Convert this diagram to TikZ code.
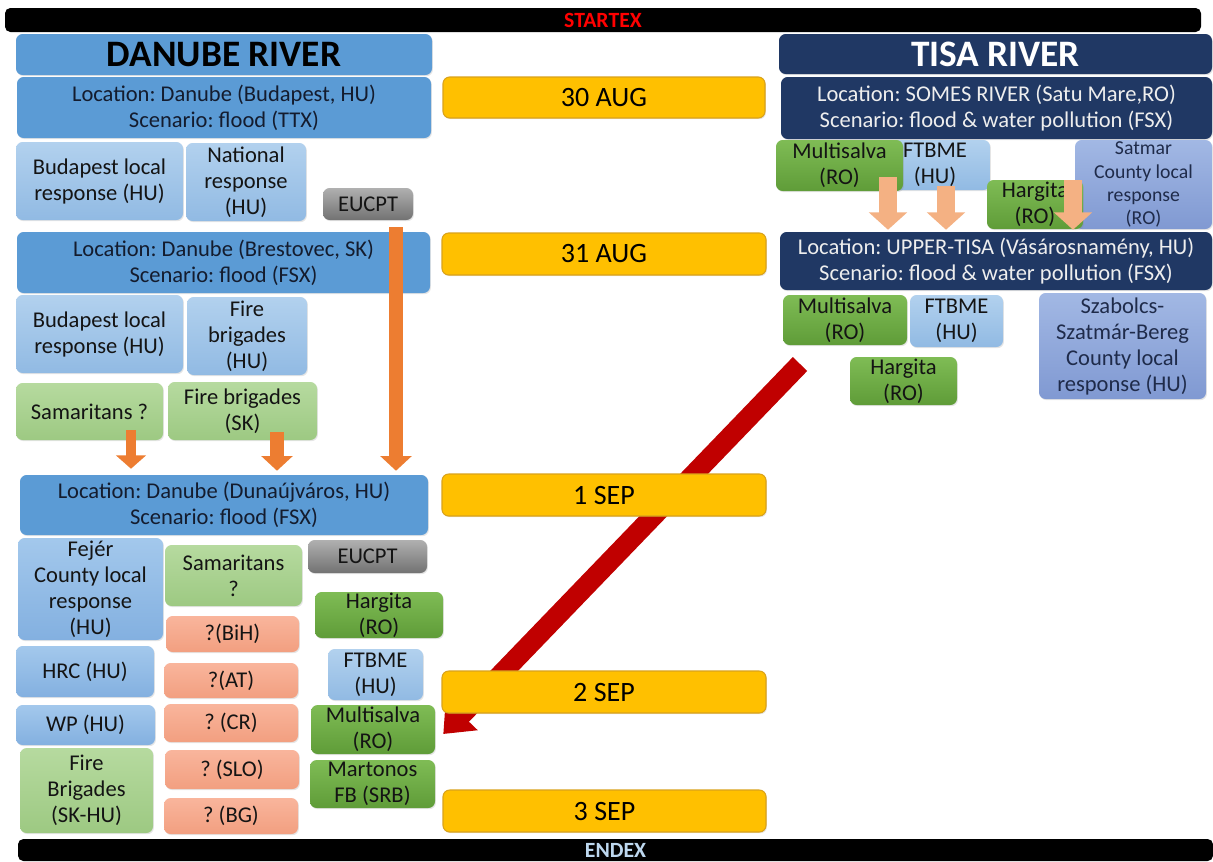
\documentclass[tikz,border=0pt]{standalone}
\usepackage{fontspec}
\setmainfont{Carlito}
\usetikzlibrary{arrows.meta,shadows,calc}
\definecolor{dblue}{HTML}{5B9BD5}
\definecolor{lbT}{HTML}{B2D1EE}
\definecolor{lbB}{HTML}{91BAE3}
\definecolor{fjT}{HTML}{A3C8EC}
\definecolor{fjB}{HTML}{83B0E0}
\definecolor{lgT}{HTML}{B6DA9F}
\definecolor{lgB}{HTML}{9DC982}
\definecolor{dgT}{HTML}{7FBC55}
\definecolor{dgB}{HTML}{5F9C38}
\definecolor{saT}{HTML}{F9B59C}
\definecolor{saB}{HTML}{F29F80}
\definecolor{grT}{HTML}{B0B0B0}
\definecolor{grB}{HTML}{727272}
\definecolor{navy}{HTML}{203864}
\definecolor{peT}{HTML}{A2B8E4}
\definecolor{peB}{HTML}{8099D2}
\definecolor{gold}{HTML}{FFC000}
\definecolor{goldD}{HTML}{D9A21B}
\definecolor{orange1}{HTML}{ED7D31}
\definecolor{peach}{HTML}{F4B183}
\definecolor{darkred}{HTML}{C00000}
\definecolor{txtdark}{HTML}{141414}
\definecolor{loctxt}{HTML}{141C2E}
\definecolor{navytxt}{HTML}{EEEEEE}
\definecolor{peritxt}{HTML}{1F2B4A}
\definecolor{endblue}{HTML}{BDD7EE}
\pgfdeclarelayer{bg}
\pgfsetlayers{bg,main}
\frenchspacing
\newcommand\fA{\fontsize{16.9}{19.5}\selectfont}
\newcommand\fS{\fontsize{14.8}{17.3}\selectfont}
\newcommand\fD{\fontsize{21}{24}\selectfont}
\newcommand\fH{\fontsize{28}{32}\selectfont\bfseries}
\newcommand\fB{\fontsize{16.3}{18}\selectfont\bfseries}
\newcommand\mybox[7]{%
  \pgfmathsetmacro\mbw{(#5-#3)*0.75}%
  \pgfmathsetmacro\mbh{(#6-#4)*0.75}%
  \pgfmathsetmacro\mbx{(#3+#5)/2}%
  \pgfmathsetmacro\mby{(#4+#6)/2}%
  \node[#1, minimum width=\mbw pt, minimum height=\mbh pt] (#2) at (\mbx,\mby) {#7};}
\begin{document}
\begin{tikzpicture}[x=0.75pt,y=-0.75pt,
  box/.style={rounded corners=5pt, inner sep=0pt, align=center, font=\fA, text=txtdark,
    drop shadow={opacity=0.2,shadow xshift=0.7pt,shadow yshift=-0.9pt}},
  bar/.style={rounded corners=4pt, inner sep=0pt, fill=black, font=\fB},
  dloc/.style={box, fill=dblue, text=loctxt},
  lb/.style={box, top color=lbT, bottom color=lbB},
  fj/.style={box, top color=fjT, bottom color=fjB},
  lg/.style={box, top color=lgT, bottom color=lgB},
  dg/.style={box, top color=dgT, bottom color=dgB},
  sal/.style={box, top color=saT, bottom color=saB},
  gr/.style={box, top color=grT, bottom color=grB},
  nv/.style={box, fill=navy, text=navytxt},
  pe/.style={box, top color=peT, bottom color=peB, text=peritxt},
  dt/.style={box, fill=gold, draw=goldD, line width=0.8pt, font=\fD, text=black},
  oarr/.style={draw=orange1, line width=11pt, -{Triangle[width=23pt,length=11pt]}},
  oarrs/.style={draw=orange1, line width=8pt, -{Triangle[width=22pt,length=10pt]}},
  parr/.style={draw=peach, line width=13pt, -{Triangle[width=28pt,length=13pt]}},
  rarr/.style={draw=darkred, line width=15pt, -{Triangle[width=32pt,length=20pt]}}
]
\useasboundingbox (0,0) rectangle (1213,861);
% bars
\mybox{bar, text=red}{startex}{5}{8}{1201}{32}{STARTEX}
\mybox{bar, text=endblue}{endex}{18}{839}{1213}{861}{ENDEX}
% Danube column
\mybox{dloc, font=\fH, text=black}{danube}{16}{34}{432}{75}{DANUBE RIVER}
\mybox{dloc}{loc1}{17}{77}{431}{138}{Location: Danube (Budapest, HU)\\Scenario: flood (TTX)}
\mybox{lb}{bud1}{16}{142}{183}{220}{Budapest local\\response (HU)}
\mybox{lb}{nat}{186}{143}{306}{221}{National\\response\\(HU)}
\mybox{gr}{eu1}{323}{188}{413}{220}{EUCPT}
\mybox{dloc}{loc2}{17}{232}{430}{293}{Location: Danube (Brestovec, SK)\\Scenario: flood (FSX)}
\mybox{lb}{bud2}{16}{295}{183}{373}{Budapest local\\response (HU)}
\mybox{lb}{fbhu}{187}{297}{307}{375}{Fire\\brigades\\(HU)}
\mybox{lg}{sam1}{16}{383}{163}{440}{Samaritans ?}
\mybox{lg}{fbsk}{168}{382}{317}{440}{Fire brigades\\(SK)}
\mybox{dloc}{loc3}{20}{475}{428}{535}{Location: Danube (Dunaújváros, HU)\\Scenario: flood (FSX)}
\mybox{fj}{fejer}{18}{538}{163}{640}{Fejér\\County local\\response\\(HU)}
\mybox{lg}{sam2}{165}{545}{302}{606}{Samaritans\\?}
\mybox{gr}{eu2}{308}{540}{427}{573}{EUCPT}
\mybox{dg}{harg1}{315}{592}{443}{638}{Hargita\\(RO)}
\mybox{sal}{bih}{166}{616}{299}{652}{?(BiH)}
\mybox{fj}{hrc}{16}{646}{154}{697}{HRC (HU)}
\mybox{sal}{at}{164}{663}{298}{698}{?(AT)}
\mybox{lb}{ftb1}{328}{649}{423}{700}{FTBME\\(HU)}
\mybox{fj}{wp}{16}{705}{155}{745}{WP (HU)}
\mybox{sal}{cr}{164}{704}{298}{742}{? (CR)}
\mybox{dg}{mult1}{311}{705}{435}{754}{Multisalva\\(RO)}
\mybox{lg}{fbskhu}{20}{748}{153}{833}{Fire\\Brigades\\(SK-HU)}
\mybox{sal}{slo}{165}{750}{299}{789}{? (SLO)}
\mybox{dg}{mart}{310}{760}{435}{808}{Martonos\\FB (SRB)}
\mybox{sal}{bg}{164}{798}{298}{834}{? (BG)}
% dates
\mybox{dt}{d1}{443}{77}{765}{118}{30 AUG}
\mybox{dt}{d2}{442}{233}{766}{275}{31 AUG}
\mybox{dt}{d3}{442}{474}{766}{516}{1 SEP}
\mybox{dt}{d4}{442}{671}{766}{713}{2 SEP}
\mybox{dt}{d5}{443}{790}{766}{832}{3 SEP}
% Tisa column
\mybox{nv, font=\fH, text=white}{tisa}{779}{34}{1212}{74}{TISA RIVER}
\mybox{nv}{loc4}{781}{77}{1212}{139}{Location: SOMES RIVER (Satu Mare,RO)\\Scenario: flood \& water pollution (FSX)}
\mybox{lb}{ftb2}{880}{140}{990}{190}{FTBME\\(HU)}
\mybox{dg}{mult2}{776}{140}{903}{191}{Multisalva\\(RO)}
\mybox{pe, font=\fS}{satmar}{1075}{140}{1212}{229}{Satmar\\County local\\response\\(RO)}
\mybox{dg}{harg2}{987}{180}{1083}{229}{Hargita\\(RO)}
\mybox{nv}{loc5}{780}{232}{1212}{290}{Location: UPPER-TISA (Vásárosnamény, HU)\\Scenario: flood \& water pollution (FSX)}
\mybox{dg}{mult3}{783}{295}{907}{345}{Multisalva\\(RO)}
\mybox{lb}{ftb3}{910}{295}{1003}{347}{FTBME\\(HU)}
\mybox{dg}{harg3}{850}{357}{957}{405}{Hargita\\(RO)}
\mybox{pe}{szab}{1039}{293}{1206}{399}{Szabolcs-\\Szatmár-Bereg\\County local\\response (HU)}
% orange arrows (Danube)
\coordinate (eA) at (396,227);
\draw[oarr] (eA) -- ($(eA |- loc3.north)+(0,-4)$);
\coordinate (sA) at (131,430);
\draw[oarrs] (sA) -- ($(sA |- loc3.north)+(0,-6)$);
\coordinate (fA) at (277,432);
\draw[oarr] (fA) -- ($(fA |- loc3.north)+(0,-4)$);
% peach arrows (Tisa)
\coordinate (pA) at (888,177);
\draw[parr] (pA) -- ($(pA |- loc5.north)+(0,-2)$);
\coordinate (pB) at (946,186);
\draw[parr] (pB) -- ($(pB |- loc5.north)+(0,-2)$);
\coordinate (pC) at (1073,180);
\draw[parr] (pC) -- ($(pC |- loc5.north)+(0,-2)$);
% red arrow behind dates
\begin{pgfonlayer}{bg}
\fill[white] (0,0) rectangle (1213,861);
\coordinate (rA) at (800,364);
\draw[rarr] (rA) -- ($(mult1.east)+(8,4.5)$);
\end{pgfonlayer}
\end{tikzpicture}
\end{document}
